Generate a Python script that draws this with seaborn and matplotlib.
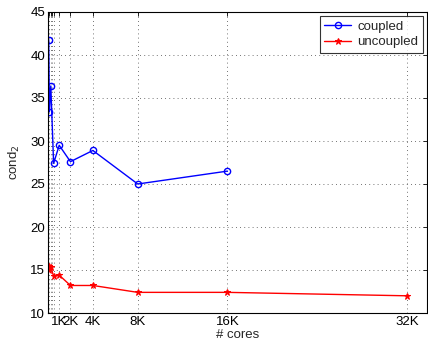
import matplotlib
matplotlib.use("Agg")
import matplotlib.pyplot as plt
import seaborn as sns
import pandas as pd

# data
cores_coupled = [64, 128, 256, 512, 1024, 2048, 4096, 8192, 16384]
cond_coupled = [41.8, 33.4, 36.4, 27.4, 29.5, 27.6, 28.9, 25.0, 26.5]
cores_uncoupled = [64, 128, 256, 512, 1024, 2048, 4096, 8192, 16384, 32768]
cond_uncoupled = [15.5, 15.0, 15.3, 14.3, 14.4, 13.2, 13.2, 12.4, 12.4, 12.0]
xtick_values = [128, 256, 384, 512, 1024, 2048, 4096, 8192, 16384, 32768]
xtick_labels = ["", "", "", "", "1K", "2K", "4K", "8K", "16K", "32K"]
ytick_values = [10, 15, 20, 25, 30, 35, 40, 45]

sns.set_style("white")
plt.rcParams["font.family"] = ["Liberation Sans", "DejaVu Sans"]

df_c = pd.DataFrame({"cores": cores_coupled, "cond": cond_coupled})
df_u = pd.DataFrame({"cores": cores_uncoupled, "cond": cond_uncoupled})

fig = plt.figure(figsize=(4.28, 3.44), dpi=100)
ax = fig.add_axes([48 / 428, 1 - 313 / 344, 379 / 428, 301 / 344])

sns.lineplot(data=df_c, x="cores", y="cond", ax=ax, color="blue", marker="o",
             markersize=4.5, markerfacecolor="none", markeredgecolor="blue",
             markeredgewidth=1.0, linewidth=1.0, label="coupled", sort=False)
sns.lineplot(data=df_u, x="cores", y="cond", ax=ax, color="red", marker="*",
             markersize=5, markeredgecolor="red", linewidth=1.0,
             label="uncoupled", sort=False)

ax.set_xlim(0, 34600)
ax.set_ylim(10, 45)
ax.set_xticks(xtick_values)
ax.set_xticklabels(xtick_labels)
ax.set_yticks(ytick_values)
ax.tick_params(direction="in", top=True, right=True, length=3, width=0.6,
               labelsize=9.5, pad=2, colors="black")
ax.grid(True, linestyle=(0, (1, 4)), color="#444444", linewidth=0.6)
for s in ax.spines.values():
    s.set_color("black")
    s.set_linewidth(0.8)

ax.set_xlabel("# cores", fontsize=9.5, labelpad=1)
ax.set_ylabel("cond$_2$", fontsize=9.5, labelpad=6)

leg = ax.legend(loc="upper right", fontsize=9.5, frameon=True, fancybox=False,
                borderpad=0.35, handlelength=2.0, handletextpad=0.5,
                labelspacing=0.25, borderaxespad=0.3)
leg.get_frame().set_edgecolor("black")
leg.get_frame().set_linewidth(0.8)

fig.savefig("out.png", dpi=100)
